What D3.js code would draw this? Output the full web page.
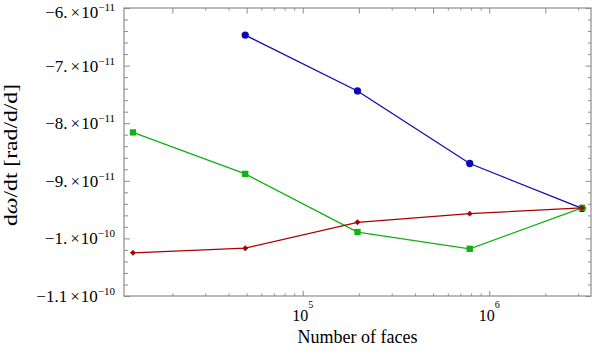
<!DOCTYPE html>
<html>
<head>
<meta charset="utf-8">
<script src="https://cdn.jsdelivr.net/npm/d3@7"></script>
<style>
  body { margin: 0; background: #fff; }
</style>
</head>
<body>
<div id="chart"></div>
<script>
// Data
const faces = [12288, 49152, 196608, 786432, 3145728];
const seriesBlue = [null, -6.47e-11, -7.44e-11, -8.70e-11, -9.48e-11];
const seriesGreen = [-8.16e-11, -8.88e-11, -9.89e-11, -10.18e-11, -9.47e-11];
const seriesRed = [-10.25e-11, -10.17e-11, -9.72e-11, -9.57e-11, -9.47e-11];

// Tick labels
const yTicks = [-6e-11, -7e-11, -8e-11, -9e-11, -1e-10, -1.1e-10];
const yTickMantissa = ["−6.", "−7.", "−8.", "−9.", "−1.", "−1.1"];
const yTickExponent = ["−11", "−11", "−11", "−11", "−10", "−10"];
const xTicks = [1e5, 1e6];
const xTickExponent = ["5", "6"];

const chartWidth = 592;
const chartHeight = 354;
const plotLeft = 124, plotRight = 591, plotTop = 8, plotBottom = 296;
const frameColor = "#8c8c8c";
const serif = "'Liberation Serif', 'Times New Roman', Times, serif";

const svg = d3
  .select("#chart")
  .append("svg")
  .attr("width", chartWidth)
  .attr("height", chartHeight)
  .attr("font-family", serif);

// Scales
const xScale = d3.scaleLog().domain([11000, 3.515e6]).range([plotLeft, plotRight]);
const yScale = d3.scaleLinear().domain([-1.1e-10, -6e-11]).range([plotBottom, plotTop]);

// tick positions
const xMinor = [];
[1e4, 1e5, 1e6].forEach((dec) => {
  for (let m = 2; m <= 9; m++) {
    const v = m * dec;
    if (v > 11000 && v < 3.515e6) xMinor.push(v);
  }
});
const xMidTop = xMinor.filter((v) => {
  const m = Math.round(v / Math.pow(10, Math.floor(Math.log10(v) + 1e-9)));
  return m === 2 || m === 5;
});
const xSmallTop = xMinor.filter((v) => !xMidTop.includes(v));
const yMinor = d3.range(0, 26).map((i) => -1.1e-10 + i * 0.2e-11)
  .filter((v) => !yTicks.some((t) => Math.abs(t - v) < 1e-14));

function styleAxis(g) {
  g.select(".domain").remove();
  g.selectAll(".tick line").attr("stroke", frameColor).attr("stroke-width", 1);
}

// Bottom ticks
svg.append("g")
  .attr("transform", `translate(0, ${plotBottom})`)
  .call(d3.axisBottom(xScale).tickValues(xMinor).tickSize(-2.5).tickFormat(""))
  .call(styleAxis);
svg.append("g")
  .attr("transform", `translate(0, ${plotBottom})`)
  .call(d3.axisBottom(xScale).tickValues(xTicks).tickSize(-5).tickFormat(""))
  .call(styleAxis);

// Top ticks
svg.append("g")
  .attr("transform", `translate(0, ${plotTop})`)
  .call(d3.axisTop(xScale).tickValues(xSmallTop).tickSize(-2.5).tickFormat(""))
  .call(styleAxis);
svg.append("g")
  .attr("transform", `translate(0, ${plotTop})`)
  .call(d3.axisTop(xScale).tickValues(xTicks.concat(xMidTop)).tickSize(-5.5).tickFormat(""))
  .call(styleAxis);

// Left ticks
svg.append("g")
  .attr("transform", `translate(${plotLeft}, 0)`)
  .call(d3.axisLeft(yScale).tickValues(yMinor).tickSize(-4).tickFormat(""))
  .call(styleAxis);
svg.append("g")
  .attr("transform", `translate(${plotLeft}, 0)`)
  .call(d3.axisLeft(yScale).tickValues(yTicks).tickSize(-6).tickFormat(""))
  .call(styleAxis);

// Right ticks
svg.append("g")
  .attr("transform", `translate(${plotRight}, 0)`)
  .call(d3.axisRight(yScale).tickValues(yMinor).tickSize(-3).tickFormat(""))
  .call(styleAxis);
svg.append("g")
  .attr("transform", `translate(${plotRight}, 0)`)
  .call(d3.axisRight(yScale).tickValues(yTicks).tickSize(-5.5).tickFormat(""))
  .call(styleAxis);

// Frame
svg.append("rect")
  .attr("x", plotLeft)
  .attr("y", plotTop)
  .attr("width", plotRight - plotLeft)
  .attr("height", plotBottom - plotTop)
  .attr("fill", "none")
  .attr("stroke", frameColor)
  .attr("stroke-width", 1.2);

// Y tick labels  (mantissa × 10^exp)
yTicks.forEach((t, i) => {
  const txt = svg.append("text")
    .attr("x", 115)
    .attr("y", Math.max(yScale(t) + 6, 17.5)) // keep the top one inside the page
    .attr("text-anchor", "end")
    .attr("font-size", 17);
  txt.append("tspan").text(yTickMantissa[i]);
  txt.append("tspan").attr("dx", 3).text("×");
  txt.append("tspan").attr("dx", 1).text("10");
  txt.append("tspan").attr("dy", -7).attr("font-size", 11).text(yTickExponent[i]);
});

// X tick labels
xTicks.forEach((t, i) => {
  const txt = svg.append("text")
    .attr("x", xScale(t))
    .attr("y", 321)
    .attr("text-anchor", "middle")
    .attr("font-size", 16);
  txt.append("tspan").text("10");
  txt.append("tspan").attr("dy", -13).attr("font-size", 10).text(xTickExponent[i]);
});

// Axis labels
svg.append("text")
  .attr("x", (plotLeft + plotRight) / 2)
  .attr("y", 343)
  .attr("text-anchor", "middle")
  .attr("font-size", 18)
  .text("Number of faces");

const yLabel = svg.append("text")
  .attr("transform", `translate(16.5, 155) rotate(-90)`)
  .attr("text-anchor", "middle")
  .attr("font-size", 18)
  .attr("textLength", 142)
  .attr("lengthAdjust", "spacingAndGlyphs");
yLabel.append("tspan").text("d");
yLabel.append("tspan").attr("font-style", "italic").text("ω");
yLabel.append("tspan").text("/dt [rad/d/d]");

// Series
const series = [
  { values: seriesBlue, color: "#0a0ab4", symbol: d3.symbolCircle, size: 42 },
  { values: seriesGreen, color: "#12b012", symbol: d3.symbolSquare, size: 40 },
  { values: seriesRed, color: "#aa0000", symbol: d3.symbolDiamond2, size: 22 },
];

const line = d3.line()
  .defined((d) => d[1] !== null)
  .x((d) => xScale(d[0]))
  .y((d) => yScale(d[1]));

series.forEach((s) => {
  const pts = faces.map((f, i) => [f, s.values[i]]);
  svg.append("path")
    .datum(pts)
    .attr("fill", "none")
    .attr("stroke", s.color)
    .attr("stroke-width", 1.3)
    .attr("d", line);
  svg.append("g")
    .selectAll("path")
    .data(pts.filter((d) => d[1] !== null))
    .enter()
    .append("path")
    .attr("transform", (d) => `translate(${xScale(d[0])}, ${yScale(d[1])})`)
    .attr("d", d3.symbol(s.symbol, s.size))
    .attr("fill", s.color);
});
</script>
</body>
</html>
